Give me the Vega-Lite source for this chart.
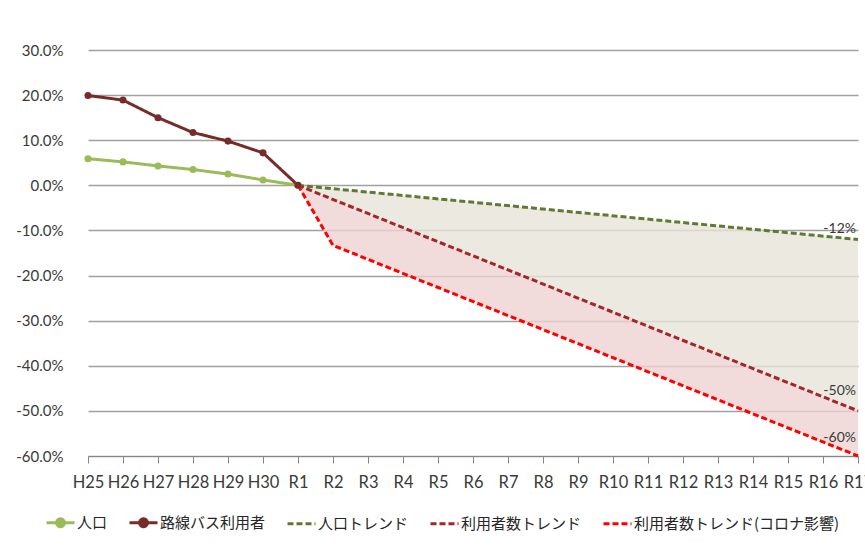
{
  "$schema": "https://vega.github.io/schema/vega-lite/v6.json",
  "width": 770,
  "height": 406,
  "autosize": {"type": "none"},
  "padding": {"left": 88, "top": 50, "right": 7, "bottom": 93},
  "background": "#ffffff",
  "config": {
    "view": {"stroke": null},
    "font": "Lato",
    "axis": {"labelFont": "Lato", "labelColor": "#3A3A3A", "labelFontSize": 15, "title": null},
    "legend": {
      "title": null,
      "orient": "none",
      "legendX": -43,
      "legendY": 457,
      "direction": "horizontal",
      "columns": 5,
      "padding": 0,
      "symbolType": "stroke",
      "symbolSize": 784,
      "symbolStrokeWidth": 3,
      "labelFont": "Noto Sans CJK JP",
      "labelFontSize": 15,
      "labelColor": "#262626",
      "labelOffset": 1,
      "labelLimit": 0,
      "columnPadding": 15
    }
  },
  "datasets": {
    "lines": [
      {"year": "H25", "series": "人口", "value": 0.059},
      {"year": "H26", "series": "人口", "value": 0.052},
      {"year": "H27", "series": "人口", "value": 0.043},
      {"year": "H28", "series": "人口", "value": 0.035},
      {"year": "H29", "series": "人口", "value": 0.025},
      {"year": "H30", "series": "人口", "value": 0.012},
      {"year": "R1", "series": "人口", "value": 0.0},
      {"year": "H25", "series": "路線バス利用者", "value": 0.199},
      {"year": "H26", "series": "路線バス利用者", "value": 0.189},
      {"year": "H27", "series": "路線バス利用者", "value": 0.150},
      {"year": "H28", "series": "路線バス利用者", "value": 0.117},
      {"year": "H29", "series": "路線バス利用者", "value": 0.098},
      {"year": "H30", "series": "路線バス利用者", "value": 0.072},
      {"year": "R1", "series": "路線バス利用者", "value": 0.0},
      {"year": "R1", "series": "人口トレンド", "value": 0.0},
      {"year": "R17", "series": "人口トレンド", "value": -0.12},
      {"year": "R1", "series": "利用者数トレンド", "value": 0.0},
      {"year": "R17", "series": "利用者数トレンド", "value": -0.50},
      {"year": "R1", "series": "利用者数トレンド(コロナ影響)", "value": 0.0},
      {"year": "R2", "series": "利用者数トレンド(コロナ影響)", "value": -0.133},
      {"year": "R17", "series": "利用者数トレンド(コロナ影響)", "value": -0.60}
    ],
    "bands": [
      {"year": "R1", "band": "population", "top": 0.0, "bottom": 0.0},
      {"year": "R17", "band": "population", "top": -0.12, "bottom": -0.50},
      {"year": "R1", "band": "covid", "top": 0.0, "bottom": 0.0},
      {"year": "R2", "band": "covid", "top": -0.031, "bottom": -0.133},
      {"year": "R17", "band": "covid", "top": -0.50, "bottom": -0.60}
    ],
    "endLabels": [
      {"year": "R17", "value": -0.12, "label": "-12%"},
      {"year": "R17", "value": -0.50, "label": "-50%"},
      {"year": "R17", "value": -0.60, "label": "-60%"}
    ]
  },
  "encoding": {
    "x": {
      "field": "year",
      "type": "ordinal",
      "scale": {
        "type": "point",
        "padding": 0,
        "domain": ["H25","H26","H27","H28","H29","H30","R1","R2","R3","R4","R5","R6","R7","R8","R9","R10","R11","R12","R13","R14","R15","R16","R17"]
      },
      "axis": {
        "labelAngle": 0,
        "labelFontSize": 16.5,
        "domainColor": "#868686",
        "domainWidth": 1,
        "tickColor": "#868686",
        "tickSize": 7,
        "labelPadding": 11,
        "grid": false
      }
    }
  },
  "layer": [
    {
      "data": {"name": "bands"},
      "transform": [{"filter": "datum.band === 'population'"}],
      "mark": {"type": "area", "color": "#E7E4D9", "opacity": 0.8},
      "encoding": {
        "y": {
          "field": "top",
          "type": "quantitative",
          "scale": {"domain": [-0.6, 0.3], "nice": false},
          "axis": {
            "values": [0.3, 0.2, 0.1, 0, -0.1, -0.2, -0.3, -0.4, -0.5, -0.6],
            "labelExpr": "replace(format(datum.value, '.1%'), '\u2212', '-')",
            "domain": false,
            "ticks": false,
            "labelPadding": 25,
            "grid": true,
            "gridColor": "#A0A0A0",
            "gridWidth": 1.3
          }
        },
        "y2": {"field": "bottom"}
      }
    },
    {
      "data": {"name": "bands"},
      "transform": [{"filter": "datum.band === 'covid'"}],
      "mark": {"type": "area", "color": "#EFD3D2", "opacity": 0.8},
      "encoding": {
        "y": {"field": "top", "type": "quantitative"},
        "y2": {"field": "bottom"}
      }
    },
    {
      "data": {"name": "lines"},
      "mark": {"type": "line"},
      "encoding": {
        "y": {"field": "value", "type": "quantitative"},
        "color": {
          "field": "series",
          "type": "nominal",
          "scale": {
            "domain": ["人口", "路線バス利用者", "人口トレンド", "利用者数トレンド", "利用者数トレンド(コロナ影響)"],
            "range": ["#9BBB59", "#772C2A", "#5E7A32", "#A3272A", "#FF0000"]
          },
          "legend": {
            "encode": {
              "symbols": {
                "update": {
                  "shape": {"signal": "indexof(['人口','路線バス利用者'], datum.value) >= 0 ? 'M-1,0L1,0M-0.28,0A0.28,0.28 0 1,1 0.28,0A0.28,0.28 0 1,1 -0.28,0Z' : 'stroke'"},
                  "fill": {"signal": "scale('color', datum.value)"},
                  "stroke": {"signal": "datum.value === '人口トレンド' ? '#8DB04F' : datum.value === '利用者数トレンド' ? '#B3181C' : scale('color', datum.value)"}
                }
              }
            }
          }
        },
        "strokeDash": {
          "field": "series",
          "type": "nominal",
          "scale": {
            "domain": ["人口", "路線バス利用者", "人口トレンド", "利用者数トレンド", "利用者数トレンド(コロナ影響)"],
            "range": [[1, 0], [1, 0], [6, 3], [6, 3], [6, 3]]
          }
        },
        "strokeWidth": {
          "field": "series",
          "type": "nominal",
          "scale": {
            "domain": ["人口", "路線バス利用者", "人口トレンド", "利用者数トレンド", "利用者数トレンド(コロナ影響)"],
            "range": [3, 3, 2, 2, 2]
          },
          "legend": null
        }
      }
    },
    {
      "data": {"name": "lines"},
      "transform": [{"filter": "datum.series === '人口' || datum.series === '路線バス利用者'"}],
      "mark": {"type": "point", "filled": true, "size": 50, "opacity": 1},
      "encoding": {
        "y": {"field": "value", "type": "quantitative"},
        "fill": {
          "field": "series",
          "type": "nominal",
          "scale": {"domain": ["人口", "路線バス利用者"], "range": ["#9BBB59", "#772C2A"]},
          "legend": null
        }
      }
    },
    {
      "data": {"name": "endLabels"},
      "transform": [{"filter": "datum.label === '-12%'"}],
      "mark": {"type": "text", "align": "right", "baseline": "middle", "dx": -2, "dy": -10, "font": "Lato", "fontSize": 14, "color": "#3A3A3A"},
      "encoding": {
        "y": {"field": "value", "type": "quantitative"},
        "text": {"field": "label"}
      }
    },
    {
      "data": {"name": "endLabels"},
      "transform": [{"filter": "datum.label === '-50%'"}],
      "mark": {"type": "text", "align": "right", "baseline": "middle", "dx": -2, "dy": -20, "font": "Lato", "fontSize": 14, "color": "#3A3A3A"},
      "encoding": {
        "y": {"field": "value", "type": "quantitative"},
        "text": {"field": "label"}
      }
    },
    {
      "data": {"name": "endLabels"},
      "transform": [{"filter": "datum.label === '-60%'"}],
      "mark": {"type": "text", "align": "right", "baseline": "middle", "dx": -2, "dy": -18, "font": "Lato", "fontSize": 14, "color": "#3A3A3A"},
      "encoding": {
        "y": {"field": "value", "type": "quantitative"},
        "text": {"field": "label"}
      }
    }
  ]
}
